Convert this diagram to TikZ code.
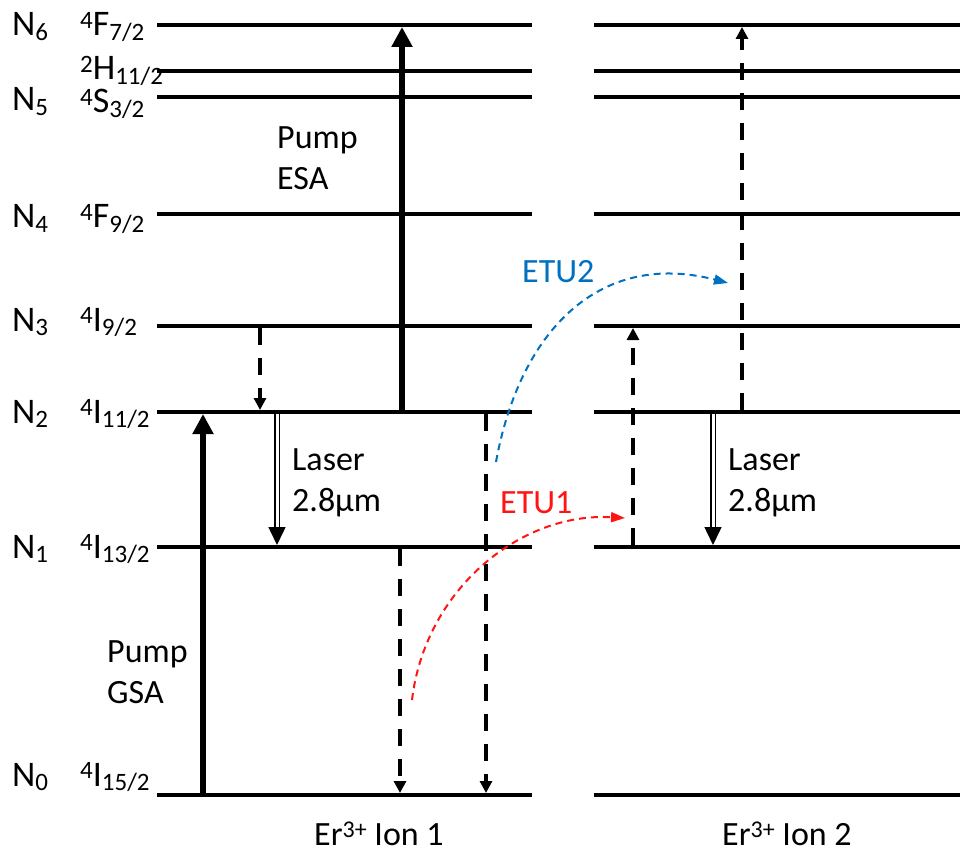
\documentclass[tikz,border=0pt]{standalone}
\usepackage{fontspec}
\setmainfont{Carlito}
\usetikzlibrary{arrows.meta}
\newcommand\supx[1]{\raisebox{7.5pt}{\fontsize{24}{24}\selectfont #1}}
\newcommand\subx[1]{\raisebox{-4.5pt}{\fontsize{24}{24}\selectfont #1}}
\newcommand\supy[1]{\raisebox{7.5pt}{\fontsize{25}{25}\selectfont #1}}
\newcommand\suby[1]{\raisebox{-4.5pt}{\fontsize{25}{25}\selectfont #1}}
\definecolor{etublue}{RGB}{0,112,192}
\definecolor{etured}{RGB}{255,20,20}
\begin{document}
\begin{tikzpicture}[x=1pt,y=-1pt,
 level/.style={line width=4.5pt},
 pumparrow/.style={line width=6.5pt,-{Triangle[width=20pt,length=20pt]}},
 dasharrow/.style={line width=3.5pt,dash pattern=on 17pt off 13pt,-{Triangle[width=12pt,length=12pt]}},
 laserarrow/.style={draw=black,double=white,line width=1.5pt,double distance=3pt,-{Triangle[width=17pt,length=18pt]}},
 etu/.style={line width=2pt,dash pattern=on 7pt off 5pt,-{Triangle[width=10pt,length=14pt]}},
 txt/.style={inner sep=0pt,anchor=base west,font=\fontsize{34}{41}\selectfont},
 lbl/.style={inner sep=0pt,anchor=base west,font=\fontsize{36}{41}\selectfont},
 txtb/.style={inner sep=0pt,anchor=north west,align=left,font=\fontsize{34}{41}\selectfont}]
\useasboundingbox (0,0) rectangle (962,856);
% energy levels
\foreach \n/\y in {0/795,1/547,2/412,3/326,4/214,5/97,h/71,6/25} {
  \coordinate (A\n) at (157,\y); \coordinate (B\n) at (532,\y);
  \coordinate (C\n) at (594,\y); \coordinate (D\n) at (960,\y);
  \draw[level] (A\n) -- (B\n);
  \draw[level] (C\n) -- (D\n);
}
% level labels
\node[lbl] (n6) at (12,36) {N\suby{6}};
\node[lbl] (n5) at (12,111) {N\suby{5}};
\node[lbl] (n4) at (12,228) {N\suby{4}};
\node[lbl] (n3) at (12,331) {N\suby{3}};
\node[lbl] (n2) at (12,423) {N\suby{2}};
\node[lbl] (n1) at (12,558) {N\suby{1}};
\node[lbl] (n0) at (12,786) {N\suby{0}};
\node[lbl] (s6) at (80,36) {\supy{4}F\suby{7/2}};
\node[lbl] (sh) at (80,80) {\supy{2}H\suby{11/2}};
\node[lbl] (s5) at (80,113) {\supy{4}S\suby{3/2}};
\node[lbl] (s4) at (80,228) {\supy{4}F\suby{9/2}};
\node[lbl] (s3) at (80,331) {\supy{4}I\suby{9/2}};
\node[lbl] (s2) at (80,423) {\supy{4}I\suby{11/2}};
\node[lbl] (s1) at (80,558) {\supy{4}I\suby{13/2}};
\node[lbl] (s0) at (80,786) {\supy{4}I\suby{15/2}};
% arrow end points
\coordinate (gsaS) at (203,797); \coordinate (gsaE) at (203,414);
\coordinate (esaS) at (402,410); \coordinate (esaE) at (402,27);
\coordinate (d1S) at (260,328); \coordinate (d1E) at (260,410);
\coordinate (l1S) at (277,414); \coordinate (l1E) at (277,545);
\coordinate (d2S) at (400,549); \coordinate (d2E) at (400,793);
\coordinate (d3S) at (486,414); \coordinate (d3E) at (486,793);
\coordinate (d4S) at (633,545); \coordinate (d4E) at (633,328);
\coordinate (d5S) at (742,410); \coordinate (d5E) at (742,27);
\coordinate (l2S) at (713,414); \coordinate (l2E) at (713,545);
\coordinate (e2S) at (496,462); \coordinate (e2E) at (728,283);
\coordinate (e1S) at (412,700); \coordinate (e1E) at (625,518);
% arrows
\draw[pumparrow] (gsaS) -- (gsaE);
\draw[pumparrow] (esaS) -- (esaE);
\draw[dasharrow] (d1S) -- (d1E);
\draw[dasharrow] (d2S) -- (d2E);
\draw[dasharrow] (d3S) -- (d3E);
\draw[dasharrow] (d4S) -- (d4E);
\draw[dasharrow] (d5S) -- (d5E);
\draw[laserarrow] (l1S) -- (l1E);
\draw[laserarrow] (l2S) -- (l2E);
\draw[etu,etublue] (e2S) .. controls (520,330) and (600,250) .. (e2E);
\draw[etu,etured] (e1S) .. controls (425,590) and (520,512) .. (e1E);
% text
\node[txtb] (esa) at (277,126) {Pump\\ESA};
\node[txtb] (gsa) at (107,640) {Pump\\GSA};
\node[txtb] (las1) at (292,448) {Laser\\2.8µm};
\node[txtb] (las2) at (728,448) {Laser\\2.8µm};
\node[txt,text=etublue] (etu2) at (522,282) {ETU2};
\node[txt,text=etured] (etu1) at (500,513) {ETU1};
\node[txt] (ion1) at (314,845) {Er\supx{3+} Ion 1};
\node[txt] (ion2) at (722,845) {Er\supx{3+} Ion 2};
\end{tikzpicture}
\end{document}
